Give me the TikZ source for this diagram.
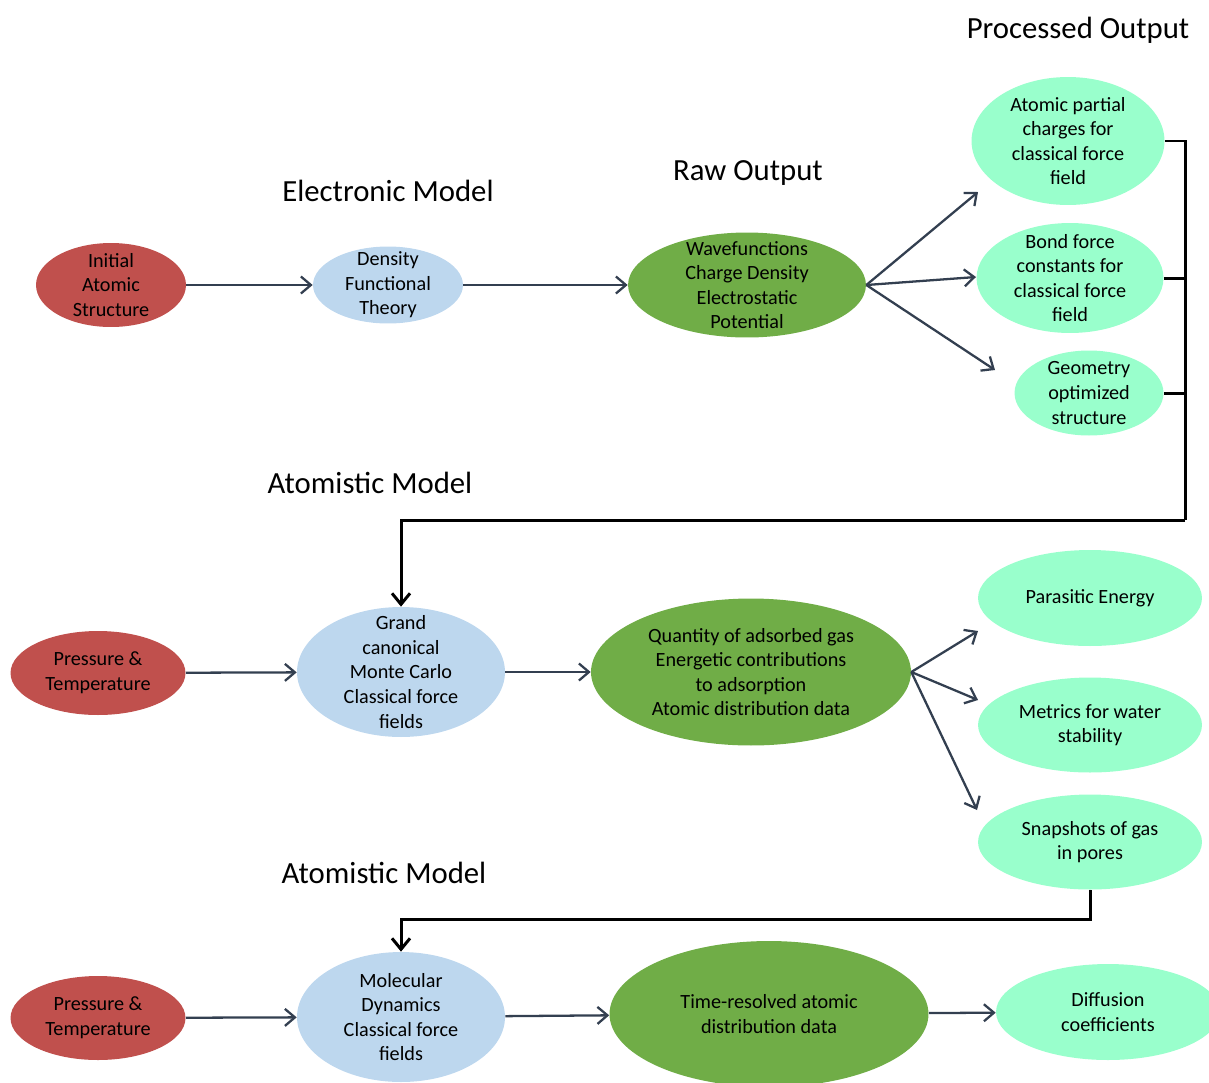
\documentclass[tikz,border=0pt]{standalone}
\usepackage{fontspec}
\setmainfont{Carlito}
\usepackage{tikz}
\usetikzlibrary{arrows.meta,shapes.geometric,calc}
\definecolor{wf_red}{RGB}{192, 80, 77}
\definecolor{wf_blue}{RGB}{189, 215, 238}
\definecolor{wf_green}{RGB}{112, 173, 71}
\definecolor{wf_mint}{RGB}{153, 255, 204}
\definecolor{wf_slate}{RGB}{51, 63, 80}
\tikzstyle{rn}=[ellipse,fill=wf_red,inner sep=-1.5cm,align=center,
  font=\fontsize{11.5}{14}\selectfont]
\tikzstyle{bn}=[ellipse,fill=wf_blue,inner sep=-1.5cm,align=center,
  font=\fontsize{11.5}{14}\selectfont]
\tikzstyle{gn}=[ellipse,fill=wf_green,inner sep=-1.5cm,align=center,
  font=\fontsize{11.5}{14}\selectfont]
\tikzstyle{mn}=[ellipse,fill=wf_mint,inner sep=-1.5cm,align=center,
  font=\fontsize{11.5}{14}\selectfont]
\tikzstyle{title}=[inner sep=0pt,font=\fontsize{17.5}{21}\selectfont]
\tikzstyle{arr}=[draw=wf_slate,line width=1.3pt,
  -{Straight Barb[length=2mm,width=3.4mm]}]
\tikzstyle{link}=[draw=black,line width=1.7pt]
\tikzstyle{none}=[inner sep=0pt]
\begin{document}
\begin{tikzpicture}[x=0.02cm, y=-0.02cm]
            \useasboundingbox (0, 0) rectangle (1209, 1082);
            \node [style=rn, minimum width=3cm, minimum height=1.68cm] (0) at (111, 285) {Initial\\Atomic\\Structure};
            \node [style=bn, minimum width=3cm, minimum height=1.54cm] (1) at (388, 285) {Density\\Functional\\Theory};
            \node [style=gn, minimum width=4.76cm, minimum height=2.1cm] (2) at (747, 285) {Wavefunctions\\Charge Density\\Electrostatic\\Potential};
            \node [style=mn, minimum width=3.86cm, minimum height=2.56cm] (3) at (1068, 141) {Atomic partial\\charges for\\classical force\\field};
            \node [style=mn, minimum width=3.74cm, minimum height=2.2cm] (4) at (1070, 278) {Bond force\\constants for\\classical force\\field};
            \node [style=mn, minimum width=2.98cm, minimum height=1.7cm] (5) at (1089, 393) {Geometry\\optimized\\structure};
            \node [style=rn, minimum width=3.5cm, minimum height=1.68cm] (6) at (98, 673) {Pressure \&\\Temperature};
            \node [style=bn, minimum width=4.16cm, minimum height=2.6cm] (7) at (401, 672) {Grand\\canonical\\Monte Carlo\\Classical force\\fields};
            \node [style=gn, minimum width=6.4cm, minimum height=2.94cm] (8) at (751, 672) {Quantity of adsorbed gas\\Energetic contributions\\to adsorption\\Atomic distribution data};
            \node [style=mn, minimum width=4.48cm, minimum height=1.92cm] (9) at (1090, 598) {Parasitic Energy};
            \node [style=mn, minimum width=4.48cm, minimum height=1.9cm] (10) at (1090, 725) {Metrics for water\\stability};
            \node [style=mn, minimum width=4.48cm, minimum height=1.9cm] (11) at (1090, 842) {Snapshots of gas\\in pores};
            \node [style=rn, minimum width=3.5cm, minimum height=1.68cm] (12) at (98, 1018) {Pressure \&\\Temperature};
            \node [style=bn, minimum width=4.16cm, minimum height=2.6cm] (13) at (401, 1017) {Molecular\\Dynamics\\Classical force\\fields};
            \node [style=gn, minimum width=6.38cm, minimum height=2.92cm] (14) at (769, 1014) {Time-resolved atomic\\distribution data};
            \node [style=mn, minimum width=4.48cm, minimum height=1.92cm] (15) at (1108, 1012) {Diffusion\\coefficients};
            \node [style=title] (16) at (388, 191) {Electronic Model};
            \node [style=title] (17) at (748, 173) {Raw Output};
            \node [style=title] (18) at (1078, 30) {Processed Output};
            \node [style=title] (19) at (370, 483) {Atomistic Model};
            \node [style=title] (20) at (384, 873) {Atomistic Model};
            \node [style=none] (21) at (978, 192) {};
            \node [style=none] (22) at (976, 277) {};
            \node [style=none] (23) at (995, 370) {};
            \node [style=none] (24) at (1185, 520) {};
            \node [style=none] (25) at (978, 631) {};
            \node [style=none] (26) at (978, 700) {};
            \node [style=none] (27) at (977, 810) {};
            \node [style=none] (28) at (1090, 919) {};
            \draw [style=arr] (0) to (1);
            \draw [style=arr] (1) to (2);
            \draw [style=arr] (2.east) to (21.center);
            \draw [style=arr] (2.east) to (22.center);
            \draw [style=arr] (2.east) to (23.center);
            \draw [style=link] (3.east) -| (24.center);
            \draw [style=link] (4.east) -- (4.east -| 24.center);
            \draw [style=link] (5.east) -- (5.east -| 24.center);
            \draw [style=link, -{Straight Barb[length=2.2mm,width=3.6mm]}] (24.center) -| (7.north);
            \draw [style=arr] (6) to (7);
            \draw [style=arr] (7) to (8);
            \draw [style=arr] (8.east) to (25.center);
            \draw [style=arr] (8.east) to (26.center);
            \draw [style=arr] (8.east) to (27.center);
            \draw [style=link, -{Straight Barb[length=2.2mm,width=3.6mm]}] (11.south) -- (28.center) -| (13.north);
            \draw [style=arr] (12) to (13);
            \draw [style=arr] (13) to (14);
            \draw [style=arr] (14) to (15);
    \end{tikzpicture}
\end{document}
